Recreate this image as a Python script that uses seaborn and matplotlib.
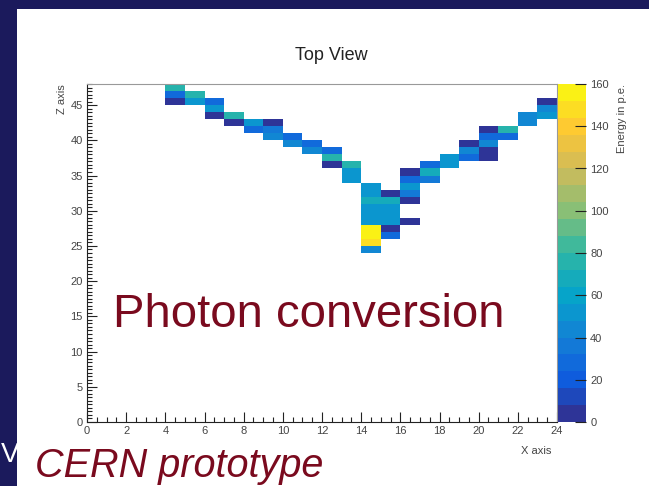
import numpy as np
import pandas as pd
import matplotlib
matplotlib.use("Agg")
import matplotlib.pyplot as plt
import seaborn as sns
from matplotlib.colors import LinearSegmentedColormap, ListedColormap
from matplotlib.patches import Rectangle

plt.rcParams["font.family"] = ["Liberation Sans", "DejaVu Sans"]

# ---- data: hit cells (x bin, z bin, energy in p.e.) ----
x_bin = [4, 4, 4,
         5, 5,
         6, 6, 6,
         7, 7,
         8, 8,
         9, 9, 9,
         10, 10,
         11, 11,
         12, 12, 12,
         13, 13, 13,
         14, 14, 14, 14, 14, 14, 14, 14, 14, 14,
         15, 15, 15, 15, 15, 15, 15,
         16, 16, 16, 16, 16, 16,
         17, 17, 17,
         18, 18,
         19, 19, 19,
         20, 20, 20, 20, 20,
         21, 21,
         22, 22,
         23, 23, 23]
z_bin = [47, 46, 45,
         46, 45,
         45, 44, 43,
         43, 42,
         42, 41,
         42, 41, 40,
         40, 39,
         39, 38,
         38, 37, 36,
         36, 35, 34,
         33, 32, 31, 30, 29, 28, 27, 26, 25, 24,
         32, 31, 30, 29, 28, 27, 26,
         35, 34, 33, 32, 31, 28,
         36, 35, 34,
         37, 36,
         39, 38, 37,
         41, 40, 39, 38, 37,
         41, 40,
         43, 42,
         45, 44, 43]
energy = [75, 25, 6,
          74, 50,
          28, 48, 6,
          74, 6,
          48, 30,
          6, 32, 45,
          25, 45,
          25, 45,
          28, 74, 6,
          72, 50, 48,
          48, 50, 70, 50, 52, 48, 158, 155, 150, 45,
          6, 70, 55, 55, 55, 6, 25,
          6, 25, 48, 35, 6, 6,
          25, 64, 35,
          48, 48,
          6, 45, 28,
          6, 30, 45, 6, 6,
          74, 25,
          45, 45,
          6, 45, 55]

n_x, n_z = 24, 48
x_ticks = list(range(0, 25, 2))
x_tick_labels = [str(v) for v in x_ticks]
z_ticks = list(range(0, 46, 5))
z_tick_labels = [str(v) for v in z_ticks]
cbar_ticks = list(range(0, 161, 20))
cbar_tick_labels = [str(v) for v in cbar_ticks]

# ROOT kBird palette, 20 contour levels
stops = [0.0, 0.125, 0.25, 0.375, 0.5, 0.625, 0.75, 0.875, 1.0]
red = [0.2082, 0.0592, 0.0780, 0.0232, 0.1802, 0.5301, 0.8186, 0.9956, 0.9764]
green = [0.1664, 0.3599, 0.5041, 0.6419, 0.7178, 0.7492, 0.7328, 0.7862, 0.9832]
blue = [0.5293, 0.8684, 0.8385, 0.7914, 0.6425, 0.4662, 0.3499, 0.1968, 0.0539]
bird = LinearSegmentedColormap.from_list(
    "bird", list(zip(stops, zip(red, green, blue))))
cmap = ListedColormap([bird((i + 0.5) / 20) for i in range(20)])

df = pd.DataFrame({"x": x_bin, "z": z_bin, "e": energy})
grid = df.pivot(index="z", columns="x", values="e").reindex(
    index=range(n_z), columns=range(n_x))

W, H = 649, 486
fig = plt.figure(figsize=(6.49, 4.86), dpi=100)
fig.patch.set_facecolor("#1b1a5c")
fig.patches.append(Rectangle((17 / W, 0), 1, 1 - 9 / H, transform=fig.transFigure,
                             facecolor="white", edgecolor="none", zorder=-10))

ax = fig.add_axes([87 / W, 1 - 422 / H, 470 / W, 338 / H])
cax = fig.add_axes([558 / W, 1 - 422 / H, 28 / W, 338 / H])

sns.heatmap(grid, ax=ax, cmap=cmap, vmin=0, vmax=160, cbar_ax=cax,
            xticklabels=False, yticklabels=False, linewidths=0)
ax.set_facecolor("white")
ax.set_xlim(0, n_x)
ax.set_ylim(0, n_z)
ax.set_xlabel("")
ax.set_ylabel("")
for s in ax.spines.values():
    s.set_visible(True)
    s.set_color("#999999")
    s.set_linewidth(0.8)
ax.spines["left"].set_color("#222222")
ax.spines["bottom"].set_color("#222222")

ax.set_xticks(x_ticks)
ax.set_xticklabels(x_tick_labels)
ax.set_xticks(np.arange(0, n_x + 0.01, 0.5), minor=True)
ax.set_yticks(z_ticks)
ax.set_yticklabels(z_tick_labels, rotation=0)
ax.set_yticks(np.arange(0, n_z + 0.01, 0.5), minor=True)
ax.tick_params(which="major", direction="in", length=7, width=0.8,
               labelsize=8, labelcolor="#444444", color="#222222", pad=3)
ax.tick_params(which="minor", direction="in", length=3.5, width=0.8,
               color="#222222")
ax.tick_params(axis="x", which="both", top=False, bottom=True)
ax.tick_params(axis="y", which="both", left=True, right=False)

cbar = ax.collections[0].colorbar
cbar.set_ticks(cbar_ticks)
cbar.set_ticklabels(cbar_tick_labels)
cbar.outline.set_linewidth(0)
cax.tick_params(direction="in", length=8, width=0.8, labelsize=8,
                labelcolor="#444444", color="#222222", right=True, pad=3)

fig.text(331 / W, 1 - 55 / H, "Top View", ha="center", va="center",
         fontsize=13, color="#222222")
fig.text(551 / W, 1 - 451 / H, "X axis", ha="right", va="center",
         fontsize=8, color="#444444")
fig.text(62 / W, 1 - 84 / H, "Z axis", ha="center", va="top",
         rotation=90, fontsize=8, color="#444444")
fig.text(622 / W, 1 - 84 / H, "Energy in p.e.", ha="center", va="top",
         rotation=90, fontsize=8, color="#444444")

fig.text(113 / W, 1 - 315 / H, "Photon conversion", ha="left", va="center",
         fontsize=34, color="#7a0a1e")
fig.text(35 / W, 1 - 477 / H, "CERN prototype", ha="left", va="baseline",
         fontsize=28.5, style="italic", color="#7a0a1e")
fig.text(1 / W, 1 - 462 / H, "V", ha="left", va="baseline",
         fontsize=20, color="white")

fig.savefig("out.png", dpi=100, facecolor=fig.get_facecolor())
